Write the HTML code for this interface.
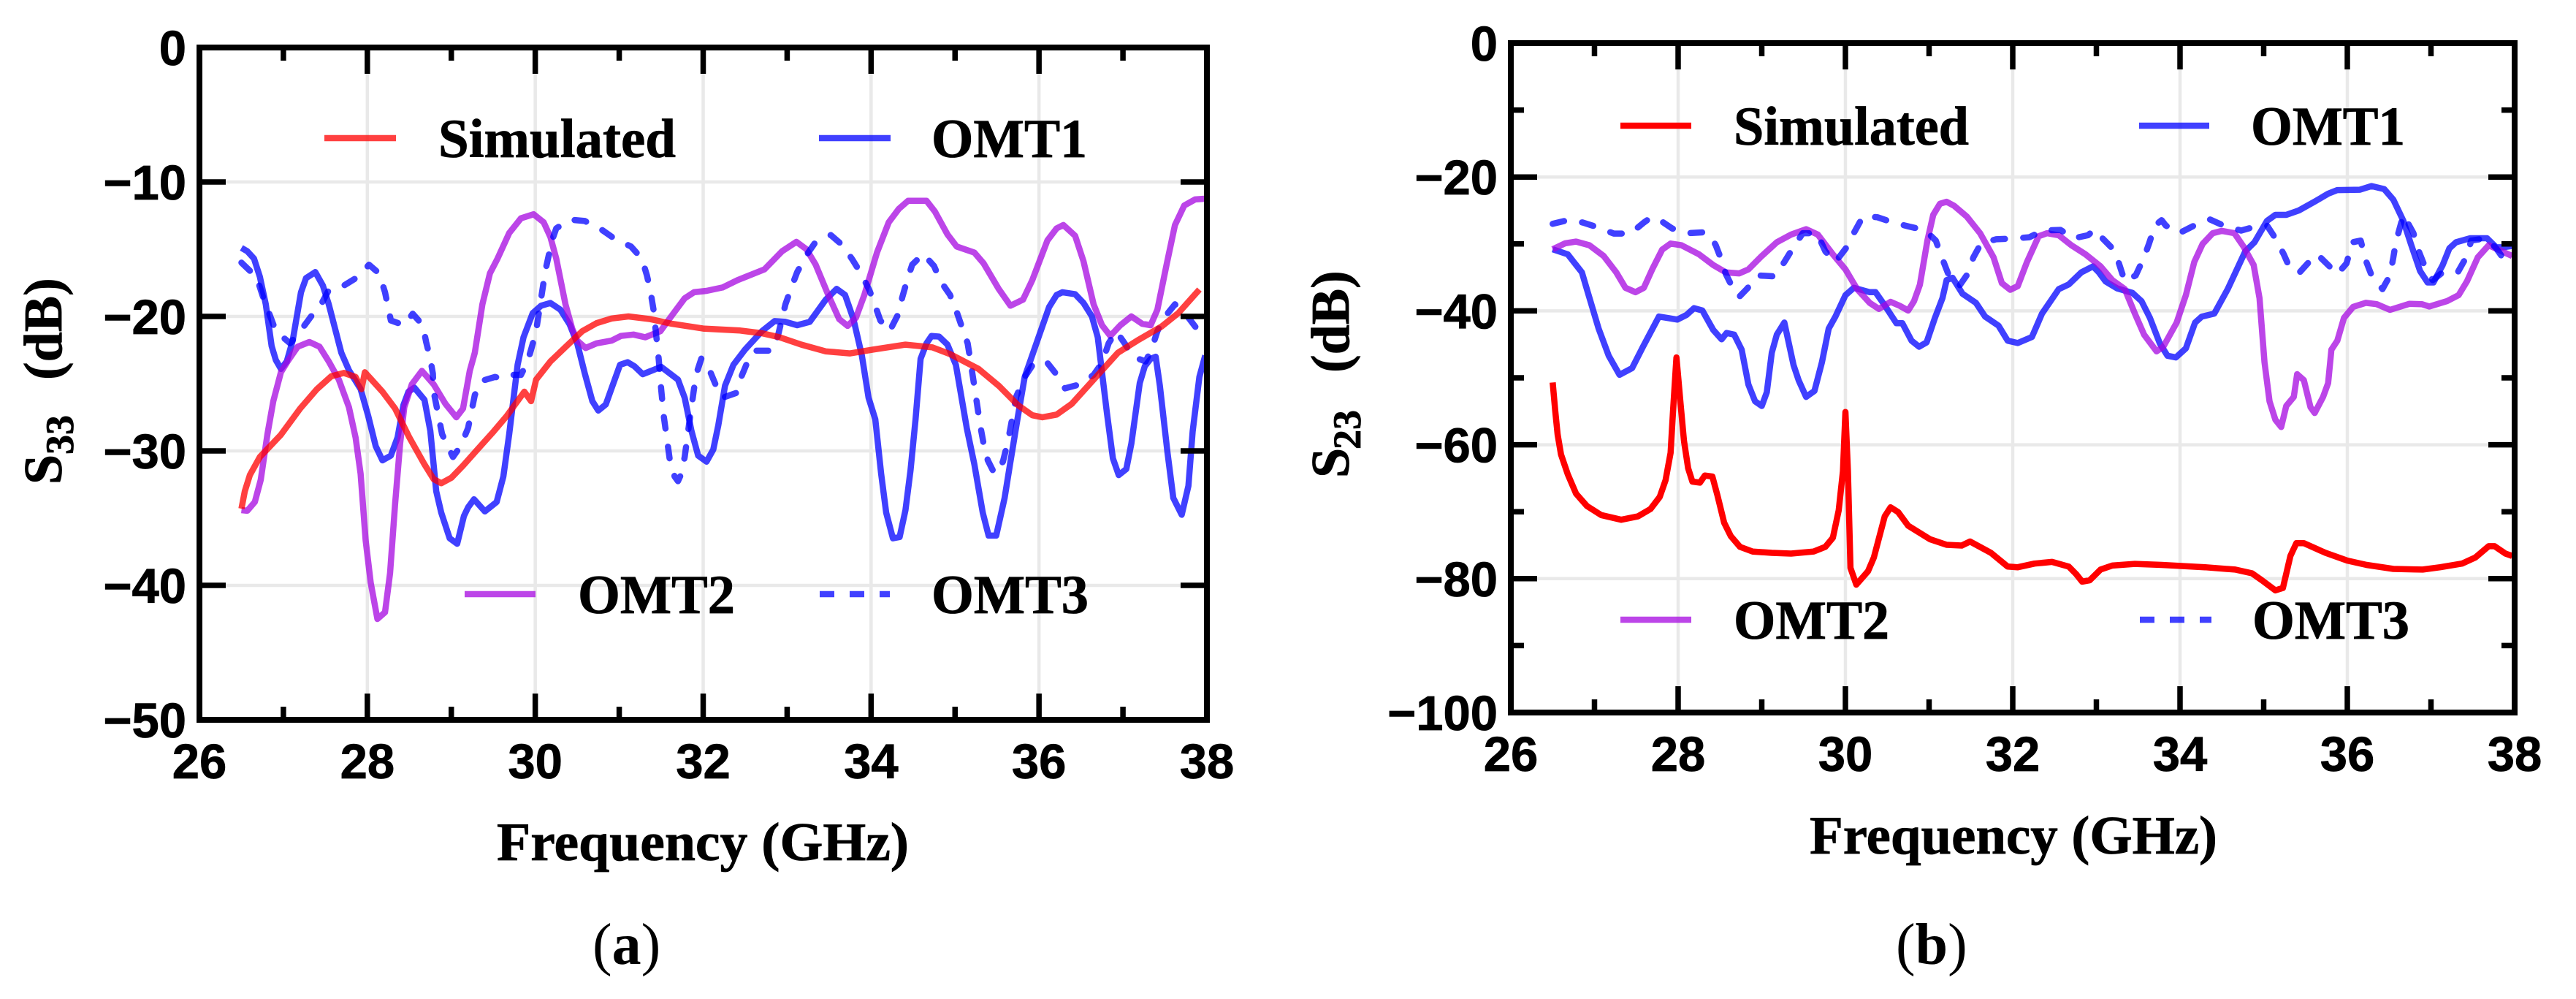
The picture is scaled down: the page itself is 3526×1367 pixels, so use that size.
<!DOCTYPE html>
<html lang="en">
<head>
<meta charset="utf-8">
<title>S33 and S23 of OMT samples</title>
<style>
html,body{margin:0;padding:0;background:#fff;}
svg{display:block;}
text{fill:#000;}
.tick{font:bold 67px "Liberation Sans",sans-serif;stroke:#000;stroke-width:.8px;}
.serif{font-family:"Liberation Serif",serif;font-weight:bold;stroke:#000;stroke-width:.8px;}
.leg{font-size:75px;}
.axt{font-size:74px;}
.cap{font-family:"Liberation Serif",serif;font-size:80px;}
</style>
</head>
<body>
<svg id="root" xmlns="http://www.w3.org/2000/svg" width="3526" height="1367" viewBox="0 0 3526 1367">
  <rect width="3526" height="1367" fill="#fff"/>
  <g id="chartA"></g>
  <g id="chartB"></g>

  <g>
    <line x1="444" x2="542" y1="189" y2="189" stroke="#ff0000" stroke-opacity=".75" stroke-width="8.5"/>
    <text class="serif leg" x="600" y="215" textLength="325" lengthAdjust="spacingAndGlyphs">Simulated</text>
    <line x1="1121" x2="1219" y1="189" y2="189" stroke="#0000ff" stroke-opacity=".75" stroke-width="8.5"/>
    <text class="serif leg" x="1275" y="215" textLength="213" lengthAdjust="spacingAndGlyphs">OMT1</text>
    <line x1="636" x2="733" y1="813" y2="813" stroke="#a607e0" stroke-opacity=".75" stroke-width="8.5"/>
    <text class="serif leg" x="791" y="839" textLength="215" lengthAdjust="spacingAndGlyphs">OMT2</text>
    <line x1="1122" x2="1218" y1="813" y2="813" stroke="#0000ff" stroke-opacity=".75" stroke-width="8.5" stroke-dasharray="20 21"/>
    <text class="serif leg" x="1275" y="839" textLength="215" lengthAdjust="spacingAndGlyphs">OMT3</text>
  </g>
  <g>
    <line x1="2218" x2="2315" y1="172" y2="172" stroke="#ff0000" stroke-width="8.5"/>
    <text class="serif leg" x="2373" y="198" textLength="322" lengthAdjust="spacingAndGlyphs">Simulated</text>
    <line x1="2928" x2="3024" y1="172" y2="172" stroke="#0000ff" stroke-opacity=".75" stroke-width="8.5"/>
    <text class="serif leg" x="3081" y="198" textLength="211" lengthAdjust="spacingAndGlyphs">OMT1</text>
    <line x1="2218" x2="2315" y1="848" y2="848" stroke="#a607e0" stroke-opacity=".75" stroke-width="8.5"/>
    <text class="serif leg" x="2373" y="874" textLength="213" lengthAdjust="spacingAndGlyphs">OMT2</text>
    <line x1="2929" x2="3027" y1="848" y2="848" stroke="#0000ff" stroke-opacity=".75" stroke-width="8.5" stroke-dasharray="20 21"/>
    <text class="serif leg" x="3083" y="874" textLength="215" lengthAdjust="spacingAndGlyphs">OMT3</text>
  </g>

  <text class="serif axt" x="680" y="1177" textLength="564" lengthAdjust="spacingAndGlyphs">Frequency (GHz)</text>
  <text class="serif axt" x="2477" y="1168" textLength="558" lengthAdjust="spacingAndGlyphs">Frequency (GHz)</text>

  <text class="serif axt" transform="translate(84,663) rotate(-90)">S<tspan x="41" dy="16" font-size="54">33</tspan><tspan x="143" dy="-16">(dB)</tspan></text>
  <text class="serif axt" transform="translate(1846,654) rotate(-90)">S<tspan x="39" dy="16" font-size="54">23</tspan><tspan x="144" dy="-16">(dB)</tspan></text>

  <text class="cap" x="811" y="1319">(<tspan font-weight="bold">a</tspan>)</text>
  <text class="cap" x="2595" y="1319">(<tspan font-weight="bold">b</tspan>)</text>
</svg>

<script>
/* ---------- shared axis values ---------- */
const xMajorTicks = [26, 28, 30, 32, 34, 36, 38];
const xMinorTicks = [27, 29, 31, 33, 35, 37];
const s33YMajor = [0, -10, -20, -30, -40, -50];
const s23YMajor = [0, -20, -40, -60, -80, -100];
const s23YMinor = [-10, -30, -50, -70, -90];

/* ---------- S33 data (GHz / dB) ---------- */
const s33SimFreq = [26.5,26.54,26.6,26.72,26.97,27.2,27.4,27.57,27.72,27.86,27.93,27.97,28.18,28.33,28.5,28.68,28.79,28.88,29,29.14,29.31,29.49,29.66,29.87,29.95,30.01,30.18,30.39,30.56,30.73,30.91,31.11,31.37,31.63,32,32.44,32.7,32.91,33.17,33.46,33.75,34.04,34.41,34.73,34.94,35.28,35.52,35.75,35.92,36.04,36.21,36.39,36.68,36.94,37.17,37.46,37.66,37.91];
const s33SimDb = [-34.3,-33,-31.8,-30.45,-28.8,-26.85,-25.4,-24.45,-24.2,-24.5,-25.4,-24.15,-25.6,-26.85,-29,-31,-32.1,-32.4,-32,-31.1,-29.9,-28.65,-27.4,-25.6,-26.3,-24.7,-23.35,-22.1,-21.1,-20.5,-20.15,-20,-20.2,-20.55,-20.9,-21.05,-21.25,-21.55,-22.1,-22.6,-22.75,-22.45,-22.1,-22.3,-22.8,-23.9,-25.15,-26.6,-27.35,-27.5,-27.3,-26.5,-24.5,-22.7,-21.8,-20.75,-19.75,-18];

const s33Omt1Freq = [26.5,26.57,26.65,26.72,26.79,26.86,26.91,26.97,27.04,27.11,27.21,27.27,27.38,27.47,27.54,27.69,27.78,27.92,28.01,28.1,28.18,28.28,28.36,28.43,28.49,28.56,28.68,28.75,28.82,28.88,28.98,29.07,29.15,29.2,29.27,29.4,29.54,29.62,29.69,29.79,29.86,29.97,30.07,30.18,30.3,30.41,30.5,30.59,30.68,30.75,30.84,30.92,31.01,31.1,31.18,31.28,31.5,31.7,31.78,31.86,31.94,32.04,32.12,32.18,32.26,32.36,32.5,32.7,32.85,32.98,33.12,33.27,33.46,33.59,33.69,33.79,33.89,33.97,34.05,34.12,34.18,34.26,34.34,34.41,34.47,34.53,34.59,34.66,34.72,34.81,34.91,35.01,35.14,35.23,35.33,35.4,35.49,35.59,35.66,35.75,35.83,35.98,36.12,36.21,36.28,36.43,36.53,36.63,36.7,36.81,36.88,36.95,37.04,37.1,37.2,37.26,37.33,37.39,37.44,37.53,37.6,37.7,37.78,37.83,37.91,37.98];
const s33Omt1Db = [-14.9,-15.15,-15.7,-17.05,-19.1,-22.2,-23.25,-23.9,-23.35,-21.8,-18.2,-17.15,-16.7,-17.7,-19.1,-22.7,-24,-25.4,-27.4,-29.65,-30.7,-30.35,-29,-26.6,-25.6,-25.3,-26.2,-28.5,-33,-34.6,-36.5,-36.9,-34.85,-34.2,-33.6,-34.5,-33.8,-31.9,-28.75,-23.6,-21.55,-19.75,-19.2,-19,-19.5,-20.6,-22,-24.25,-26.3,-27,-26.55,-25.15,-23.6,-23.4,-23.7,-24.3,-23.75,-24.7,-26.05,-28.5,-30.35,-30.8,-29.9,-28.1,-25.15,-23.6,-22.45,-21.1,-20.35,-20.4,-20.65,-20.4,-18.75,-17.95,-18.4,-20.2,-22.9,-26.05,-27.65,-31.7,-34.6,-36.5,-36.4,-34.4,-31.45,-27.65,-23.15,-22,-21.45,-21.5,-22.1,-23.6,-28.3,-31,-34.6,-36.3,-36.3,-33.5,-30.8,-27.4,-24.5,-21.8,-19.3,-18.4,-18.2,-18.35,-19,-20,-21.55,-27.2,-30.55,-31.8,-31.35,-29.45,-24.95,-23.7,-23.15,-23,-25.15,-30.1,-33.5,-34.75,-32.6,-28.55,-24.5,-22.9];

const s33Omt2Freq = [26.5,26.57,26.66,26.73,26.81,26.88,26.97,27.06,27.17,27.31,27.43,27.54,27.66,27.78,27.86,27.92,27.98,28.04,28.12,28.21,28.27,28.33,28.39,28.44,28.53,28.65,28.79,28.93,29.06,29.14,29.22,29.28,29.37,29.46,29.55,29.69,29.83,29.98,30.1,30.18,30.25,30.36,30.44,30.5,30.6,30.73,30.91,31.02,31.17,31.31,31.49,31.63,31.78,31.89,32.04,32.23,32.41,32.73,32.94,33.11,33.23,33.34,33.49,33.62,33.72,33.82,33.92,34.07,34.21,34.33,34.44,34.66,34.76,34.91,35.02,35.23,35.34,35.52,35.66,35.81,35.92,36.1,36.21,36.29,36.43,36.53,36.65,36.75,36.85,36.97,37.1,37.23,37.33,37.41,37.52,37.62,37.73,37.86,37.97];
const s33Omt2Db = [-34.4,-34.45,-33.8,-32.15,-28.75,-26.3,-24.15,-23.25,-22.25,-21.9,-22.25,-23.35,-24.7,-26.75,-29,-31.7,-36.65,-39.8,-42.5,-42,-39.1,-33.95,-29.45,-26.75,-25.05,-24.05,-25.05,-26.5,-27.5,-26.85,-24.05,-22.7,-19.1,-16.8,-15.7,-13.8,-12.7,-12.4,-13,-14.1,-15.7,-19.1,-20.9,-21.8,-22.35,-22,-21.8,-21.45,-21.35,-21.55,-21.1,-19.9,-18.65,-18.2,-18.1,-17.85,-17.3,-16.5,-15.15,-14.45,-15,-16.15,-18.4,-20.2,-20.7,-20.1,-18.4,-15.25,-13,-12,-11.4,-11.4,-12.2,-13.9,-14.8,-15.25,-16.05,-17.95,-19.2,-18.75,-17.3,-14.35,-13.45,-13.2,-14,-15.9,-19.1,-20.65,-21.45,-20.65,-20,-20.55,-20.65,-19.5,-16.15,-13.2,-11.75,-11.3,-11.25];

const s33Omt3Freq = [26.5,26.6,26.68,26.76,26.91,27.08,27.2,27.33,27.44,27.54,27.72,27.89,28.02,28.14,28.21,28.28,28.44,28.54,28.66,28.7,28.75,28.78,28.79,28.83,28.89,29.02,29.11,29.2,29.28,29.36,29.52,29.6,29.69,29.83,29.91,29.98,30.02,30.07,30.12,30.2,30.25,30.41,30.59,30.79,30.94,31.14,31.27,31.33,31.37,31.41,31.44,31.47,31.5,31.53,31.57,31.6,31.66,31.7,31.74,31.78,31.83,31.89,31.92,31.98,32.08,32.17,32.23,32.39,32.44,32.53,32.62,32.82,32.89,32.98,33.05,33.12,33.23,33.33,33.52,33.66,33.78,33.88,33.98,34.04,34.11,34.22,34.33,34.37,34.43,34.49,34.62,34.75,34.83,34.94,35.02,35.08,35.15,35.18,35.24,35.3,35.34,35.39,35.47,35.57,35.63,35.66,35.73,35.83,35.92,36.08,36.2,36.31,36.49,36.65,36.75,36.83,36.92,37.02,37.12,37.27,37.34,37.41,37.49,37.62,37.75,37.89,37.98];
const s33Omt3Db = [-16,-16.6,-17.05,-18.6,-21.1,-22,-21.1,-20,-19.2,-18.05,-17.7,-17.05,-16.15,-16.8,-18.2,-20.3,-20.65,-19.8,-20.65,-21.9,-23.15,-24.25,-25.6,-26.85,-28.75,-30.45,-29.65,-28.3,-25.85,-24.8,-24.5,-24.6,-24.35,-24.35,-23.35,-21.8,-20.65,-18.65,-16.6,-14.35,-13.45,-12.8,-12.9,-13.55,-14.2,-14.8,-15.7,-16.95,-18.05,-19.55,-21.35,-23.15,-25.4,-27.4,-29.2,-30.55,-31.9,-32.25,-31.7,-30.45,-28.1,-25.4,-24.25,-23.1,-24.05,-25.4,-26.05,-25.7,-24.7,-23.35,-22.55,-22.55,-21.45,-19.1,-17.85,-16.7,-15.45,-14.55,-13.95,-14.7,-15.8,-16.8,-18.05,-19.05,-20.3,-21.1,-19.75,-18.6,-17.3,-16.15,-15.35,-16.25,-17.4,-18.4,-19.65,-20.75,-22,-23.15,-25.6,-28.1,-29.45,-30.7,-31.7,-30.8,-29.3,-28.3,-25.95,-24.5,-23.65,-23.3,-24.25,-25.35,-25.05,-24.35,-23.45,-22,-21.1,-22,-23,-23.35,-22.45,-21.1,-20.1,-19.1,-19.85,-21,-21.2];

/* ---------- S23 data (GHz / dB) ---------- */
const s23SimFreq = [26.5,26.53,26.56,26.6,26.68,26.78,26.91,27.08,27.32,27.52,27.67,27.78,27.85,27.91,27.94,27.98,28.03,28.07,28.12,28.17,28.26,28.32,28.41,28.47,28.55,28.63,28.74,28.89,29.12,29.35,29.62,29.76,29.85,29.92,29.97,30,30.03,30.06,30.13,30.27,30.34,30.47,30.54,30.63,30.75,31.01,31.21,31.39,31.49,31.74,31.94,32.06,32.26,32.47,32.67,32.76,32.83,32.92,33.05,33.19,33.46,33.78,34.3,34.66,34.86,34.98,35.14,35.23,35.32,35.39,35.48,35.74,36,36.23,36.55,36.9,37.11,37.37,37.53,37.69,37.76,37.89,37.97];
const s23SimDb = [-50.7,-54.85,-58.5,-61.45,-64.4,-67.3,-69.15,-70.5,-71.2,-70.7,-69.6,-67.8,-65.3,-61.2,-54.85,-46.95,-53.95,-59.4,-63.5,-65.5,-65.65,-64.6,-64.75,-67.55,-71.65,-73.65,-75.25,-75.95,-76.15,-76.25,-75.95,-75.25,-73.9,-69.8,-63.95,-55.1,-63.95,-78.4,-80.9,-78.9,-76.85,-70.7,-69.35,-70.05,-72.1,-74.1,-74.95,-75.05,-74.45,-76.15,-78.2,-78.3,-77.75,-77.5,-78.2,-79.35,-80.45,-80.25,-78.65,-78.05,-77.8,-77.95,-78.3,-78.65,-79.2,-80.25,-81.75,-81.4,-76.6,-74.7,-74.7,-76.15,-77.3,-77.95,-78.55,-78.65,-78.3,-77.75,-76.85,-75.15,-75.15,-76.25,-76.6];

const s23Omt1Freq = [26.5,26.68,26.85,26.92,27.05,27.17,27.3,27.45,27.58,27.77,27.99,28.1,28.19,28.29,28.42,28.52,28.58,28.67,28.76,28.84,28.92,29,29.06,29.12,29.18,29.27,29.38,29.44,29.53,29.63,29.72,29.8,29.88,30,30.1,30.29,30.36,30.46,30.61,30.68,30.79,30.88,30.97,31.07,31.16,31.21,31.28,31.4,31.56,31.67,31.83,31.94,32.06,32.23,32.35,32.55,32.67,32.82,32.96,33.03,33.11,33.25,33.43,33.54,33.64,33.76,33.85,33.95,34.07,34.18,34.26,34.41,34.57,34.78,34.89,35.04,35.14,35.27,35.42,35.62,35.77,35.88,36.15,36.29,36.44,36.55,36.67,36.76,36.87,36.96,37.03,37.14,37.22,37.3,37.47,37.67,37.78,37.86,37.97];
const s23Omt1Db = [-30.8,-31.55,-34.25,-37.2,-42.65,-46.7,-49.55,-48.55,-45.35,-40.85,-41.3,-40.6,-39.6,-39.95,-42.85,-44.25,-43.3,-43.55,-45.8,-51,-53.5,-54.2,-52.15,-46.25,-43.55,-41.75,-48.1,-50.35,-52.85,-51.95,-47.65,-42.65,-40.85,-37.65,-36.55,-37.2,-37.2,-39,-41.85,-41.85,-44.45,-45.35,-44.7,-41.05,-38.1,-35.4,-35.05,-37.45,-38.8,-40.85,-42.2,-44.45,-44.8,-43.9,-40.4,-36.75,-36.05,-34.25,-33.35,-34.25,-35.6,-36.65,-37.3,-38.55,-41.05,-44.9,-46.7,-46.95,-45.6,-41.75,-40.85,-40.4,-36.75,-31.1,-29.75,-26.55,-25.65,-25.65,-25,-23.6,-22.5,-21.95,-21.9,-21.35,-21.8,-23.4,-26.55,-30,-34.05,-35.75,-35.75,-33.15,-30.65,-29.75,-29.15,-29.15,-30.5,-30.5,-30.3];

const s23Omt2Freq = [26.5,26.65,26.78,26.94,27.11,27.26,27.37,27.49,27.59,27.69,27.81,27.91,28.04,28.25,28.42,28.57,28.73,28.84,29,29.18,29.35,29.53,29.67,29.85,30,30.14,30.29,30.4,30.54,30.65,30.75,30.82,30.89,30.98,31.05,31.13,31.21,31.3,31.45,31.61,31.77,31.87,31.97,32.06,32.17,32.31,32.41,32.55,32.7,32.87,33.05,33.19,33.34,33.46,33.57,33.72,33.8,33.96,34.07,34.17,34.27,34.39,34.5,34.65,34.76,34.88,34.95,35.01,35.07,35.14,35.21,35.27,35.36,35.4,35.48,35.56,35.61,35.71,35.77,35.81,35.88,35.96,36.07,36.22,36.35,36.51,36.74,36.89,36.98,37.19,37.33,37.43,37.56,37.69,37.97];
const s23Omt2Db = [-30.8,-29.9,-29.65,-30.2,-31.8,-34.25,-36.55,-37.2,-36.55,-33.8,-30.85,-29.95,-30.2,-31.55,-33.15,-34.25,-34.4,-33.8,-31.8,-29.75,-28.6,-27.8,-28.6,-31.55,-33.8,-36.75,-38.8,-39.7,-38.65,-39.25,-39.95,-38.55,-36.1,-29.5,-25.65,-24,-23.7,-24.3,-25.9,-28.4,-32,-35.85,-36.85,-36.3,-32.7,-28.85,-28.4,-28.7,-30.2,-31.55,-33.35,-35.4,-36.75,-40.4,-43.55,-46.05,-45.35,-41.75,-37.65,-32.7,-30,-28.4,-28.05,-28.4,-30.4,-33.15,-38.1,-47.65,-53.5,-56.25,-57.35,-54.2,-52.85,-49.45,-50.35,-54.4,-55.25,-52.85,-50.8,-45.8,-44.45,-41.05,-39.4,-38.8,-39,-39.85,-38.95,-39,-39.35,-38.55,-37.65,-35.6,-32,-30.2,-31.8];

const s23Omt3Freq = [26.5,26.68,26.86,27.05,27.23,27.43,27.59,27.68,27.77,27.93,28.12,28.31,28.39,28.45,28.52,28.57,28.67,28.73,28.82,28.96,29.15,29.27,29.37,29.49,29.66,29.76,29.88,30.02,30.11,30.21,30.38,30.57,30.76,30.95,31.08,31.16,31.23,31.36,31.46,31.53,31.62,31.8,32,32.2,32.36,32.57,32.73,32.9,32.98,33.06,33.19,33.27,33.34,33.47,33.57,33.63,33.7,33.78,33.83,33.99,34.17,34.36,34.52,34.73,34.89,35.04,35.14,35.24,35.32,35.43,35.56,35.64,35.75,35.88,35.99,36.06,36.16,36.22,36.29,36.42,36.51,36.55,36.58,36.67,36.79,36.84,36.92,37.02,37.14,37.32,37.43,37.48,37.66,37.78,37.92,37.97];
const s23Omt3Db = [-27,-26.45,-26.8,-27.55,-28.45,-28.45,-26.8,-26,-26.35,-27.7,-28.4,-28.25,-28.85,-30.2,-32.45,-34.5,-37,-37.9,-36.75,-34.7,-34.85,-32.7,-30.65,-28.4,-28.4,-31.1,-32.7,-30.4,-28.15,-25.9,-26,-26.8,-27.4,-27.95,-29.5,-32.25,-34.5,-36.3,-34.5,-32,-29.95,-29.3,-29.2,-29,-28,-27.9,-29.15,-28.7,-27.85,-29,-30.65,-32.9,-35.6,-34.7,-32,-29.95,-27.25,-26.45,-27.25,-28.4,-27.25,-26.35,-27.25,-28,-27.45,-27.25,-29.15,-31.55,-33.8,-34.25,-32.45,-31.55,-32.9,-34.5,-32.9,-29.75,-29.5,-32.45,-34.7,-36.75,-34.7,-32,-29.75,-25.65,-28.4,-30.65,-33.15,-35.4,-34.25,-34.25,-31.8,-29.5,-29.15,-30.65,-33.15,-33.8];

/* ---------- drawing ---------- */
const NS = 'http://www.w3.org/2000/svg';

function makeScale(d0, d1, p0, p1) {
  return function (v) { return p0 + (v - d0) * (p1 - p0) / (d1 - d0); };
}
function addLine(parent, x1, y1, x2, y2, stroke, width) {
  const el = document.createElementNS(NS, 'line');
  el.setAttribute('x1', x1);
  el.setAttribute('y1', y1);
  el.setAttribute('x2', x2);
  el.setAttribute('y2', y2);
  el.setAttribute('stroke', stroke);
  el.setAttribute('stroke-width', width);
  parent.appendChild(el);
  return el;
}
function addLabel(parent, x, y, anchor, str) {
  const el = document.createElementNS(NS, 'text');
  el.setAttribute('class', 'tick');
  el.setAttribute('x', x);
  el.setAttribute('y', y);
  el.setAttribute('text-anchor', anchor);
  el.textContent = str;
  parent.appendChild(el);
  return el;
}
function fmt(v) { return v < 0 ? '\u2212' + Math.abs(v) : String(v); }

function drawChart(g, box, yDomain, yMajor, yMinor, xLabelBaseline, series) {
  const sx = makeScale(26, 38, box.left, box.right);
  const sy = makeScale(yDomain[0], yDomain[1], box.top, box.bottom);
  const major = 36, minor = 18, tw = 7.5;

  /* gridlines */
  xMajorTicks.slice(1, -1).forEach(function (t) {
    const el = addLine(g, sx(t), box.top, sx(t), box.bottom, '#e9e9e9', 4.5);
    
    
  });
  yMajor.slice(1, -1).forEach(function (t) {
    const el = addLine(g, box.left, sy(t), box.right, sy(t), '#e9e9e9', 4.5);
    
    
  });

  /* series */
  series.forEach(function (s) {
    const pts = s.freq.map(function (f, i) { return sx(f).toFixed(1) + ',' + sy(s.db[i]).toFixed(1); });
    const el = document.createElementNS(NS, 'polyline');
    
    
    el.setAttribute('points', pts.join(' '));
    el.setAttribute('fill', 'none');
    el.setAttribute('stroke', s.color);
    el.setAttribute('stroke-opacity', s.opacity);
    el.setAttribute('stroke-width', 8.5);
    el.setAttribute('stroke-linejoin', 'round');
    if (s.dashed) {
      el.setAttribute('stroke-dasharray', '16 25');
      el.setAttribute('stroke-linecap', 'round');
    }
    g.appendChild(el);
  });

  /* ticks */
  xMajorTicks.slice(1, -1).forEach(function (t) {
    const a = addLine(g, sx(t), box.top, sx(t), box.top + major, '#000', tw);
    
    
    const b = addLine(g, sx(t), box.bottom, sx(t), box.bottom - major, '#000', tw);
    
    
  });
  xMinorTicks.forEach(function (t) {
    const a = addLine(g, sx(t), box.top, sx(t), box.top + minor, '#000', tw);
    
    
    const b = addLine(g, sx(t), box.bottom, sx(t), box.bottom - minor, '#000', tw);
    
    
  });
  yMajor.slice(1, -1).forEach(function (t) {
    const a = addLine(g, box.left, sy(t), box.left + major, sy(t), '#000', tw);
    
    
    const b = addLine(g, box.right, sy(t), box.right - major, sy(t), '#000', tw);
    
    
  });
  yMinor.forEach(function (t) {
    const a = addLine(g, box.left, sy(t), box.left + minor, sy(t), '#000', tw);
    
    
    const b = addLine(g, box.right, sy(t), box.right - minor, sy(t), '#000', tw);
    
    
  });

  /* frame */
  const frame = document.createElementNS(NS, 'rect');
  
  
  frame.setAttribute('x', box.left);
  frame.setAttribute('y', box.top);
  frame.setAttribute('width', box.right - box.left);
  frame.setAttribute('height', box.bottom - box.top);
  frame.setAttribute('fill', 'none');
  frame.setAttribute('stroke', '#000');
  frame.setAttribute('stroke-width', 8);
  g.appendChild(frame);

  /* tick labels */
  xMajorTicks.forEach(function (t) {
    const el = addLabel(g, sx(t), xLabelBaseline, 'middle', String(t));
    
    
  });
  yMajor.forEach(function (t) {
    const el = addLabel(g, box.left - 18, sy(t) + 24, 'end', fmt(t));
    
    
  });
}

drawChart(document.getElementById('chartA'),
  {left: 273, right: 1652, top: 65, bottom: 985}, [0, -50], s33YMajor, [], 1065, [
    {name: 'omt1-s33-line', freq: s33Omt1Freq, db: s33Omt1Db, color: '#0000ff', opacity: .75},
    {name: 'omt2-s33-line', freq: s33Omt2Freq, db: s33Omt2Db, color: '#a607e0', opacity: .75},
    {name: 'omt3-s33-line', freq: s33Omt3Freq, db: s33Omt3Db, color: '#0000ff', opacity: .75, dashed: true},
    {name: 'simulated-s33-line', freq: s33SimFreq, db: s33SimDb, color: '#ff0000', opacity: .75}
  ]);

drawChart(document.getElementById('chartB'),
  {left: 2068, right: 3442, top: 59, bottom: 975}, [0, -100], s23YMajor, s23YMinor, 1055, [
    {name: 'simulated-s23-line', freq: s23SimFreq, db: s23SimDb, color: '#ff0000', opacity: 1},
    {name: 'omt1-s23-line', freq: s23Omt1Freq, db: s23Omt1Db, color: '#0000ff', opacity: .75},
    {name: 'omt2-s23-line', freq: s23Omt2Freq, db: s23Omt2Db, color: '#a607e0', opacity: .75},
    {name: 'omt3-s23-line', freq: s23Omt3Freq, db: s23Omt3Db, color: '#0000ff', opacity: .75, dashed: true}
  ]);
</script>
</body>
</html>
